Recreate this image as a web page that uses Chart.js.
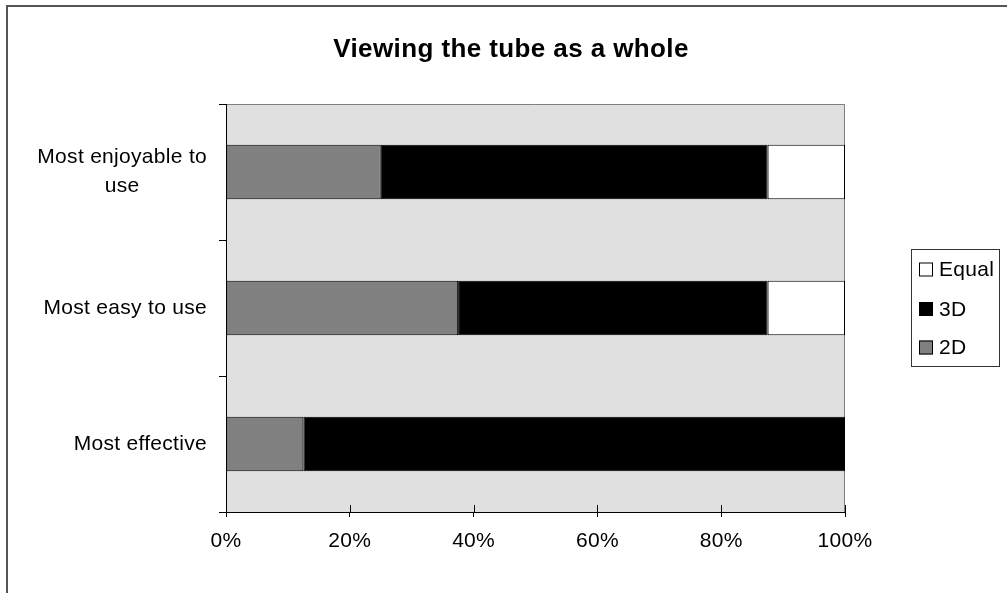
<!DOCTYPE html>
<html><head><meta charset="utf-8">
<script src="https://cdn.jsdelivr.net/npm/chart.js@4/dist/chart.umd.min.js"></script>
<style>html,body{margin:0;padding:0;background:#fff;overflow:hidden}canvas{display:block}</style>
</head><body>
<canvas id="c" width="1007" height="593"></canvas>
<script>
const titleText = 'Viewing the tube as a whole';
const categories = [['Most enjoyable to', 'use'], ['Most easy to use'], ['Most effective']];
const seriesNames = ['2D', '3D', 'Equal'];
const values2D = [25, 37.5, 12.5];
const values3D = [62.5, 50, 87.5];
const valuesEqual = [12.5, 12.5, 0];
const xTickValues = [0, 20, 40, 60, 80, 100];
const seriesColors = ['#808080', '#000000', '#ffffff'];

const FONT = '"Liberation Sans", Arial, sans-serif';
const LS = '0.3px';
const mctx = document.createElement('canvas').getContext('2d');
mctx.font = '21px ' + FONT;
try { mctx.letterSpacing = LS; } catch (e) {}
const spaceW = mctx.measureText(' ').width;
function centerLines(lines) {
  const widths = lines.map(l => mctx.measureText(l).width);
  const widest = Math.max(...widths);
  return lines.map((l, i) => {
    const n = Math.round((widest - widths[i]) / 2 / spaceW);
    return l + ' '.repeat(n);
  });
}

const decor = {
  id: 'decor',
  beforeDraw(chart) {
    const ctx = chart.ctx, a = chart.chartArea;
    ctx.save();
    ctx.fillStyle = '#fff';
    ctx.fillRect(0, 0, chart.width, chart.height);
    ctx.strokeStyle = '#555';
    ctx.lineWidth = 2;
    ctx.strokeRect(7, 6, chart.width + 20, chart.height + 20);
    ctx.fillStyle = '#e0e0e0';
    ctx.fillRect(a.left, a.top, a.right - a.left, a.bottom - a.top);
    ctx.strokeStyle = '#808080';
    ctx.lineWidth = 1;
    ctx.beginPath();
    ctx.moveTo(a.left, a.top + 0.5);
    ctx.lineTo(a.right - 0.5, a.top + 0.5);
    ctx.lineTo(a.right - 0.5, a.bottom);
    ctx.stroke();
    ctx.restore();
    try { ctx.letterSpacing = LS; } catch (e) {}
  },
  beforeDatasetsDraw(chart) {
    try { chart.ctx.letterSpacing = '0px'; } catch (e) {}
  },
  afterDraw(chart) {
    const ctx = chart.ctx, a = chart.chartArea;
    const xs = chart.scales.x;
    ctx.save();
    ctx.strokeStyle = '#000';
    ctx.lineWidth = 1;
    ctx.beginPath();
    xTickValues.forEach(v => {
      const px = Math.round(xs.getPixelForValue(v)) + 0.5;
      ctx.moveTo(px, a.bottom - 7);
      ctx.lineTo(px, a.bottom);
    });
    ctx.stroke();
    ctx.fillStyle = '#000';
    ctx.font = 'bold 26px ' + FONT;
    ctx.textAlign = 'center';
    ctx.textBaseline = 'alphabetic';
    try { ctx.letterSpacing = '0.4px'; } catch (e) {}
    ctx.fillText(titleText, 511, 57);
    try { ctx.letterSpacing = LS; } catch (e) {}
    const lx = 911, ly = 249, lw = 88, lh = 117;
    ctx.fillStyle = '#fff';
    ctx.fillRect(lx, ly, lw, lh);
    ctx.strokeStyle = '#333';
    ctx.strokeRect(lx + 0.5, ly + 0.5, lw, lh);
    const ds = chart.data.datasets.slice().reverse();
    const rowY = [269.5, 309, 347.5];
    ctx.font = '21px ' + FONT;
    ctx.textAlign = 'left';
    ctx.textBaseline = 'middle';
    ds.forEach((d, i) => {
      const cy = rowY[i];
      ctx.fillStyle = d.backgroundColor;
      ctx.fillRect(919, cy - 7, 14, 14);
      ctx.strokeStyle = '#000';
      ctx.strokeRect(919.5, cy - 6.5, 13, 13);
      ctx.fillStyle = '#000';
      ctx.fillText(d.label, 939, cy + 1);
    });
    ctx.restore();
    try { ctx.letterSpacing = '0px'; } catch (e) {}
  }
};

const chart = new Chart(document.getElementById('c'), {
  type: 'bar',
  data: {
    labels: categories,
    datasets: [
      { label: seriesNames[0], data: values2D, backgroundColor: seriesColors[0] },
      { label: seriesNames[1], data: values3D, backgroundColor: seriesColors[1] },
      { label: seriesNames[2], data: valuesEqual, backgroundColor: seriesColors[2] }
    ].map(d => Object.assign(d, { borderColor: '#000', borderWidth: 1, borderSkipped: false, categoryPercentage: 1, barPercentage: 0.4 }))
  },
  options: {
    indexAxis: 'y',
    responsive: false,
    animation: false,
    events: [],
    layout: { padding: { left: 0, top: 104, right: 162, bottom: 0 } },
    plugins: { legend: { display: false }, title: { display: false }, tooltip: { enabled: false } },
    scales: {
      x: {
        stacked: true, min: 0, max: 100,
        afterBuildTicks: s => { s.ticks = xTickValues.map(v => ({ value: v })); },
        afterFit: s => { s.height = 81; },
        grid: { drawOnChartArea: false, drawTicks: true, tickLength: 5, color: '#000', lineWidth: 1 },
        border: { display: true, color: '#000', width: 1 },
        ticks: { color: '#000', font: { family: FONT, size: 21 }, padding: 12, maxRotation: 0, autoSkip: false, callback: v => v + '%' }
      },
      y: {
        stacked: true,
        afterFit: s => { s.width = 226; },
        grid: { offset: true, drawOnChartArea: false, drawTicks: true, tickLength: 7, color: '#000', lineWidth: 1 },
        border: { display: true, color: '#000', width: 1 },
        ticks: {
          color: '#000', font: { family: FONT, size: 21, lineHeight: 1.38 }, padding: 12, autoSkip: false,
          callback: function (v, i) { return centerLines(categories[i]); }
        }
      }
    }
  },
  plugins: [decor]
});
</script>
</body></html>
